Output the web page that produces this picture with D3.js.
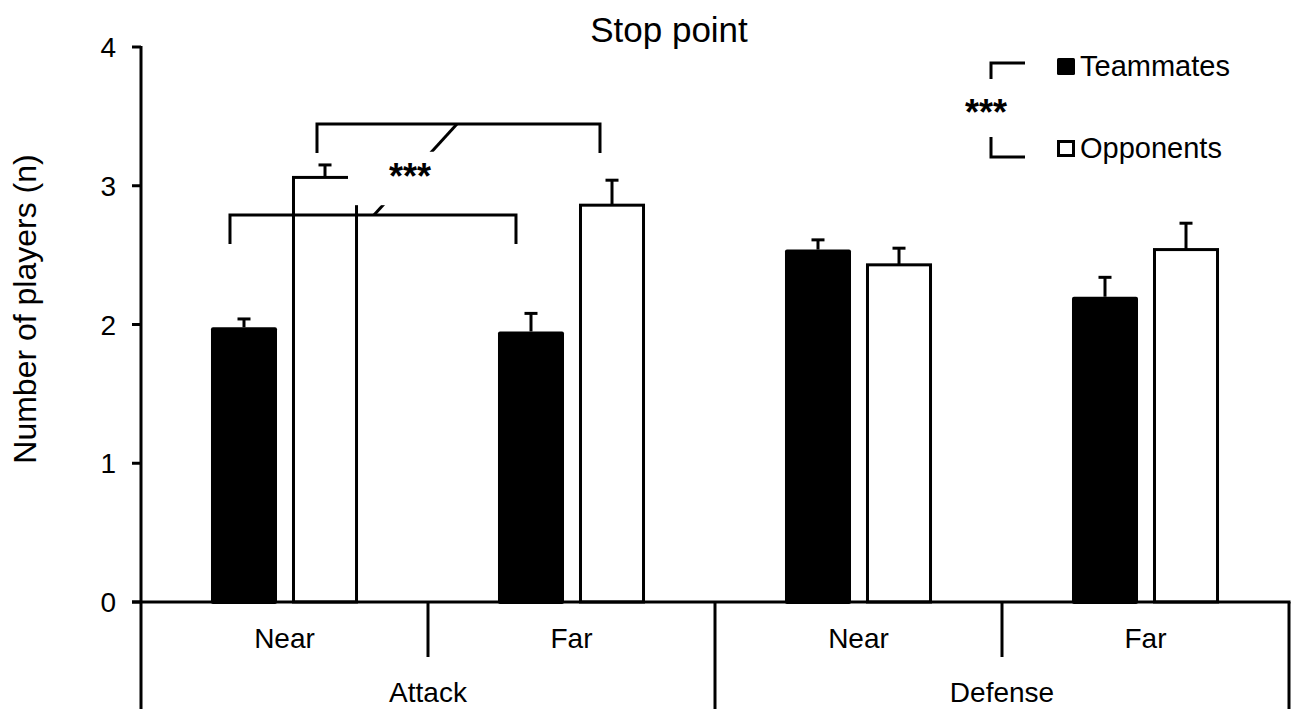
<!DOCTYPE html>
<html>
<head>
<meta charset="utf-8">
<script src="https://cdn.jsdelivr.net/npm/d3@7"></script>
<style>
  html, body { margin: 0; padding: 0; background: #fff; }
  svg text { font-family: "Liberation Sans", Arial, sans-serif; fill: #000; }
</style>
</head>
<body>
<svg id="chart" width="1295" height="709"></svg>
<script>
// ---- data ----
const groups = ["Attack", "Defense"];
const subgroups = ["Near", "Far", "Near", "Far"];
const series = ["Teammates", "Opponents"];
const teammates = [1.98, 1.95, 2.54, 2.20];
const teammatesErr = [0.06, 0.13, 0.07, 0.14];
const opponents = [3.06, 2.86, 2.43, 2.54];
const opponentsErr = [0.09, 0.18, 0.12, 0.19];
const yTicks = [0, 1, 2, 3, 4];
const title = "Stop point";
const yLabel = "Number of players (n)";
const sigLabel = "***";

// ---- layout ----
const svg = d3.select("#chart");
const mLeft = 141, mRight = 1289, mTop = 47, mBottom = 602;

const y = d3.scaleLinear().domain([0, 4]).range([mBottom, mTop]);
const xSub = d3.scaleBand().domain(d3.range(subgroups.length)).range([mLeft, mRight]).padding(0);
const xSer = d3.scaleBand().domain(series).range([0, xSub.bandwidth()])
  .paddingInner(0.185).paddingOuter(0.864);
const xGroup = d3.scaleBand().domain(d3.range(groups.length)).range([mLeft, mRight]).padding(0);

const lw = 3;

// title
svg.append("text").attr("x", 669).attr("y", 42).attr("text-anchor", "middle")
  .style("font-size", "35px").text(title);

// y label
svg.append("text").attr("transform", `translate(36,309) rotate(-90)`)
  .attr("text-anchor", "middle").style("font-size", "32px").text(yLabel);

// bars
const barData = [];
subgroups.forEach((s, i) => {
  barData.push({ i, ser: "Teammates", v: teammates[i], e: teammatesErr[i] });
  barData.push({ i, ser: "Opponents", v: opponents[i], e: opponentsErr[i] });
});

const bw = xSer.bandwidth();
const gBars = svg.append("g");

// error bars (drawn behind bars)
barData.forEach(d => {
  const cx = xSub(d.i) + xSer(d.ser) + bw / 2;
  gBars.append("line").attr("x1", cx).attr("x2", cx)
    .attr("y1", y(d.v)).attr("y2", y(d.v + d.e))
    .attr("stroke", "#000").attr("stroke-width", lw);
  gBars.append("line").attr("x1", cx - 6.5).attr("x2", cx + 6.5)
    .attr("y1", y(d.v + d.e)).attr("y2", y(d.v + d.e))
    .attr("stroke", "#000").attr("stroke-width", lw);
});

barData.forEach(d => {
  const x0 = xSub(d.i) + xSer(d.ser);
  if (d.ser === "Teammates") {
    gBars.append("rect").attr("x", x0).attr("y", y(d.v))
      .attr("width", bw).attr("height", y(0) - y(d.v) + 2)
      .attr("rx", 2).attr("fill", "#000");
  } else {
    gBars.append("rect").attr("x", x0 + lw / 2).attr("y", y(d.v))
      .attr("width", bw - lw).attr("height", y(0) - y(d.v))
      .attr("fill", "#fff").attr("stroke", "#000").attr("stroke-width", lw);
  }
});

// significance brackets (Near vs Far within Attack)
const tX = i => xSub(i) + xSer("Teammates");
const oX = i => xSub(i) + xSer("Opponents");
const brackets = [
  { x1: tX(0) + 19, x2: tX(1) + 18, yb: 2.79, yl: 2.58 },
  { x1: oX(0) + 25, x2: oX(1) + 21, yb: 3.445, yl: 3.236 }
];
const gSig = svg.append("g");
brackets.forEach(b => {
  gSig.append("path")
    .attr("d", `M${b.x1},${y(b.yl)} V${y(b.yb)} H${b.x2} V${y(b.yl)}`)
    .attr("fill", "none").attr("stroke", "#000").attr("stroke-width", lw);
});
// connecting diagonal
gSig.append("line")
  .attr("x1", tX(0) + 163).attr("y1", y(brackets[0].yb))
  .attr("x2", oX(0) + 165).attr("y2", y(brackets[1].yb))
  .attr("stroke", "#000").attr("stroke-width", lw);
// white label box
gSig.append("rect").attr("x", oX(0) + 56).attr("y", y(3.245))
  .attr("width", 121).attr("height", y(2.86) - y(3.245)).attr("fill", "#fff");
gSig.append("text").attr("x", 410).attr("y", 189).attr("text-anchor", "middle")
  .style("font-size", "36px").style("font-weight", "bold").text(sigLabel);

// axes
const gAxis = svg.append("g");
gAxis.append("line").attr("x1", mLeft).attr("x2", mLeft).attr("y1", mTop - 1).attr("y2", 709)
  .attr("stroke", "#000").attr("stroke-width", lw);
gAxis.append("line").attr("x1", mLeft - 9).attr("x2", mRight + 1.5).attr("y1", mBottom).attr("y2", mBottom)
  .attr("stroke", "#000").attr("stroke-width", lw);
yTicks.forEach(t => {
  gAxis.append("line").attr("x1", mLeft - 9).attr("x2", mLeft).attr("y1", y(t)).attr("y2", y(t))
    .attr("stroke", "#000").attr("stroke-width", lw);
  gAxis.append("text").attr("x", 116).attr("y", y(t) + 10).attr("text-anchor", "end")
    .style("font-size", "28px").text(t);
});
// group separators
[xGroup(1), mRight].forEach(gx => {
  gAxis.append("line").attr("x1", gx).attr("x2", gx).attr("y1", mBottom).attr("y2", 709)
    .attr("stroke", "#000").attr("stroke-width", lw);
});
// subgroup separators + group labels
groups.forEach((g, gi) => {
  const mid = xGroup(gi) + xGroup.bandwidth() / 2;
  gAxis.append("line").attr("x1", mid).attr("x2", mid).attr("y1", mBottom).attr("y2", 657)
    .attr("stroke", "#000").attr("stroke-width", lw);
  gAxis.append("text").attr("x", mid).attr("y", 702).attr("text-anchor", "middle")
    .style("font-size", "28px").text(g);
});
subgroups.forEach((s, i) => {
  gAxis.append("text").attr("x", xSub(i) + xSub.bandwidth() / 2).attr("y", 648)
    .attr("text-anchor", "middle").style("font-size", "28px").text(s);
});

// legend
const gLeg = svg.append("g");
const legY = [66.5, 148.5];
series.forEach((s, i) => {
  if (i === 0) {
    gLeg.append("rect").attr("x", 1057).attr("y", legY[i] - 8.5).attr("width", 18).attr("height", 17)
      .attr("rx", 1.5).attr("fill", "#000");
  } else {
    gLeg.append("rect").attr("x", 1058.5).attr("y", legY[i] - 7).attr("width", 15).attr("height", 14)
      .attr("fill", "#fff").attr("stroke", "#000").attr("stroke-width", lw);
  }
  gLeg.append("text").attr("x", 1080).attr("y", legY[i] + 9.5)
    .style("font-size", "29px").text(s);
});
gLeg.append("path").attr("d", "M991,79 V63 H1025").attr("fill", "none")
  .attr("stroke", "#000").attr("stroke-width", lw);
gLeg.append("path").attr("d", "M991,137 V157 H1025").attr("fill", "none")
  .attr("stroke", "#000").attr("stroke-width", lw);
gLeg.append("text").attr("x", 986).attr("y", 125).attr("text-anchor", "middle")
  .style("font-size", "36px").style("font-weight", "bold").text(sigLabel);
</script>
</body>
</html>
